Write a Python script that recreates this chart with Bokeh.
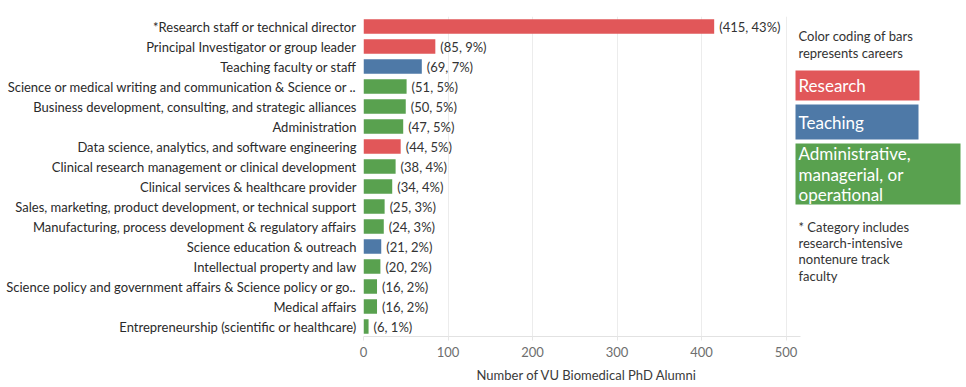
from bokeh.plotting import figure
from bokeh.models import Range1d, FixedTicker, Title
from bokeh.core.properties import value
from bokeh.embed import file_html
from bokeh.resources import INLINE

FONT = "Lato"

careers = [
    "*Research staff or technical director",
    "Principal Investigator or group leader",
    "Teaching faculty or staff",
    "Science or medical writing and communication & Science or ..",
    "Business development, consulting, and strategic alliances",
    "Administration",
    "Data science, analytics, and software engineering",
    "Clinical research management or clinical development",
    "Clinical services & healthcare provider",
    "Sales, marketing, product development, or technical support",
    "Manufacturing, process development & regulatory affairs",
    "Science education & outreach",
    "Intellectual property and law",
    "Science policy and government affairs & Science policy or go..",
    "Medical affairs",
    "Entrepreneurship (scientific or healthcare)",
]
alumni = [415, 85, 69, 51, 50, 47, 44, 38, 34, 25, 24, 21, 20, 16, 16, 6]
percents = ["43%", "9%", "7%", "5%", "5%", "5%", "5%", "4%", "4%", "3%", "3%", "2%", "2%", "2%", "2%", "1%"]
groups = ["Research", "Research", "Teaching", "Admin", "Admin", "Admin", "Research", "Admin",
          "Admin", "Admin", "Admin", "Teaching", "Admin", "Admin", "Admin", "Admin"]
x_ticks = [0, 100, 200, 300, 400, 500]

group_colors = {"Research": "#E15759", "Teaching": "#4E79A7", "Admin": "#59A14F"}
colors = [group_colors[g] for g in groups]
labels = ["(%d, %s)" % (v, pc) for v, pc in zip(alumni, percents)]
rows = [i + 0.5 for i in range(len(careers))]   # row centres, first row on top

FRAME_W, FRAME_H = 603, 320
AXIS_END = 517          # data extent of the visible axis
X_END = 713.6           # data extent of the whole frame (legend lives to the right)

p = figure(
    y_range=Range1d(len(careers), 0),
    x_range=Range1d(0, X_END),
    frame_width=FRAME_W, frame_height=FRAME_H,
    min_border_left=363, min_border_right=0, min_border_top=16, min_border_bottom=0,
    output_backend="svg", toolbar_location=None,
)
p.extra_x_ranges = {"px": Range1d(0, FRAME_W)}
p.extra_y_ranges = {"py": Range1d(FRAME_H, 0)}
p.outline_line_color = None
p.background_fill_color = "white"
p.border_fill_color = "white"

p.hbar(y=rows, right=alumni, height=0.72, color=colors, line_color=None)
p.text(x=alumni, y=rows, text=labels, x_offset=5, text_baseline="middle", text_align="left",
       text_font=value(FONT), text_font_size="13px", text_color="#333333")

p.xaxis.ticker = FixedTicker(ticks=x_ticks)
p.xaxis.bounds = (0, AXIS_END)
p.xaxis.axis_line_color = "#e2e2e2"
p.xaxis.major_tick_line_color = "#e6e6e6"
p.xaxis.major_tick_out = 4
p.xaxis.major_tick_in = 0
p.xaxis.minor_tick_line_color = None
p.xaxis.major_label_text_font = FONT
p.xaxis.major_label_text_font_size = "13px"
p.xaxis.major_label_text_color = "#6e6e6e"
p.xaxis.major_label_standoff = 6

p.xgrid.ticker = FixedTicker(ticks=x_ticks)
p.xgrid.grid_line_color = "#ececec"
p.ygrid.grid_line_color = None

p.yaxis.ticker = FixedTicker(ticks=rows, minor_ticks=[])
p.yaxis.major_label_overrides = {r: c for r, c in zip(rows, careers)}
p.yaxis.axis_line_color = None
p.yaxis.major_tick_line_color = None
p.yaxis.minor_tick_line_color = None
p.yaxis.major_tick_out = 0
p.yaxis.major_tick_in = 0
p.yaxis.major_label_standoff = 7
p.yaxis.major_label_text_font = FONT
p.yaxis.major_label_text_font_size = "13px"
p.yaxis.major_label_text_color = "#2a2a2a"

p.add_layout(Title(text="Number of VU Biomedical PhD Alumni", align="left", offset=113,
                   standoff=10, text_font=FONT, text_font_size="13px", text_font_style="normal",
                   text_color="#3a3a3a"), "below")

# legend panel (pixel coordinates inside the frame)
intro_lines = ["Color coding of bars", "represents careers"]
p.text(x=[435, 435], y=[19, 36], text=intro_lines, x_range_name="px", y_range_name="py",
       text_font=value(FONT), text_font_size="13px", text_color="#333333", text_baseline="middle")

p.quad(left=[432, 432, 432], right=[556, 555, 597], top=[54, 88, 127], bottom=[84, 123, 188],
       color=[group_colors["Research"], group_colors["Teaching"], group_colors["Admin"]],
       line_color=None, x_range_name="px", y_range_name="py")
legend_lines = ["Research", "Teaching", "Administrative,", "managerial, or", "operational"]
p.text(x=[435] * 5, y=[69, 106, 137, 158, 178], text=legend_lines, x_range_name="px", y_range_name="py",
       text_font=value(FONT), text_font_size="17px", text_color="white", text_baseline="middle")

note_lines = ["* Category includes", "research-intensive", "nontenure track", "faculty"]
p.text(x=[435] * 4, y=[210, 226, 242, 259], text=note_lines, x_range_name="px", y_range_name="py",
       text_font=value(FONT), text_font_size="13px", text_color="#333333", text_baseline="middle")

open("out.html", "w").write(file_html(p, INLINE))
